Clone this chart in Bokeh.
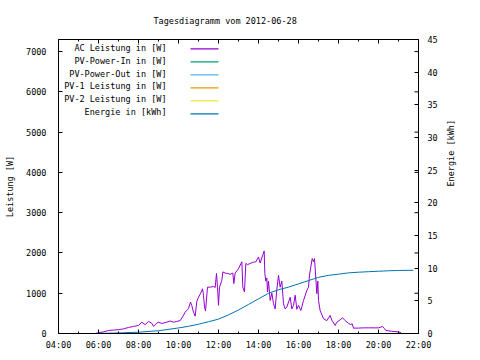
import math
from bokeh.plotting import figure
from bokeh.models import Range1d, LinearAxis, FixedTicker, Label, BoxAnnotation
from bokeh.embed import file_html
from bokeh.resources import INLINE

title_text = "Tagesdiagramm vom 2012-06-28"
y_left_label = "Leistung [W]"
y_right_label = "Energie [kWh]"

x_tick_hours = [4, 6, 8, 10, 12, 14, 16, 18, 20, 22]
x_tick_labels = ["04:00", "06:00", "08:00", "10:00", "12:00", "14:00", "16:00", "18:00", "20:00", "22:00"]
x_minor_hours = [5, 7, 9, 11, 13, 15, 17, 19, 21]
power_ticks = [0, 1000, 2000, 3000, 4000, 5000, 6000, 7000]
energy_ticks = [0, 5, 10, 15, 20, 25, 30, 35, 40, 45]

series_names = ["AC Leistung in [W]", "PV-Power-In in [W]", "PV-Power-Out in [W]",
                "PV-1 Leistung in [W]", "PV-2 Leistung in [W]", "Energie in [kWh]"]
series_colors = ["#9400d3", "#009e73", "#56b4e9", "#e69f00", "#f0e442", "#0072b2"]

ac_times = ["05:50", "06:00", "06:15", "06:30", "06:45", "07:00", "07:15", "07:30", "07:45", "08:00",
            "08:10", "08:20", "08:30", "08:40", "08:45", "08:55", "09:00", "09:10", "09:20", "09:35",
            "09:45", "09:55", "10:05", "10:12", "10:20", "10:30", "10:36", "10:40", "10:45", "10:50",
            "10:55", "11:00", "11:06", "11:12", "11:15", "11:18", "11:21", "11:27", "11:35", "11:45",
            "11:50", "11:54", "11:57", "12:00", "12:03", "12:10", "12:13", "12:20", "12:28", "12:35",
            "12:43", "12:46", "12:50", "13:00", "13:10", "13:13", "13:18", "13:22", "13:27", "13:35",
            "13:45", "13:52", "14:00", "14:05", "14:12", "14:17", "14:19", "14:22", "14:25", "14:27",
            "14:30", "14:35", "14:40", "14:45", "14:50", "14:55", "15:00", "15:05", "15:10", "15:15",
            "15:20", "15:25", "15:35", "15:40", "15:45", "15:50", "15:55", "16:00", "16:07", "16:15",
            "16:25", "16:30", "16:33", "16:37", "16:41", "16:45", "16:48", "16:52", "16:55", "16:58",
            "17:00", "17:05", "17:15", "17:25", "17:35", "17:40", "17:50", "17:55", "18:05", "18:12",
            "18:20", "18:30", "18:36", "18:41", "18:45", "19:00", "19:15", "19:30", "19:50", "20:00",
            "20:12", "20:18", "20:22", "20:40", "21:00", "21:08"]
ac_power = [0, 20, 40, 75, 85, 95, 115, 150, 175, 200,
            280, 220, 300, 250, 175, 260, 280, 250, 270, 310,
            280, 300, 320, 410, 530, 620, 780, 690, 530, 430,
            800, 900, 990, 1110, 950, 660, 560, 1150, 1150, 1170,
            1140, 1490, 1150, 700, 1150, 1320, 1530, 1500, 1490, 1470,
            1500, 1240, 1500, 1610, 1780, 1150, 1030, 1740, 1710, 1740,
            1770, 1780, 1900, 1750, 1930, 2050, 1490, 1300, 1380, 1030,
            1300, 820, 1000, 740, 610, 1100, 1445, 1150, 1300, 740,
            610, 655, 900, 610, 700, 950, 600, 700, 570, 820,
            1070, 1150, 1450, 1650, 1860, 1780, 1860, 1360, 990, 1300,
            820, 570, 366, 320, 448, 330, 200, 280, 340, 390,
            320, 250, 224, 241, 133, 135, 140, 141, 140, 140,
            175, 120, 75, 55, 40, 15]

energy_times = ["05:50", "07:00", "08:00", "09:00", "10:00", "10:30", "11:00", "11:30", "12:00", "12:30",
                "13:00", "13:30", "14:00", "14:30", "15:00", "15:30", "16:00", "16:30", "17:00", "17:30",
                "18:00", "18:30", "19:00", "19:30", "20:00", "20:30", "21:00", "21:45"]
energy_kwh = [0, 0.08, 0.2, 0.42, 0.85, 1.1, 1.42, 1.8, 2.2, 2.85,
              3.6, 4.45, 5.3, 6.15, 6.7, 7.1, 7.6, 8.1, 8.6, 8.9,
              9.08, 9.28, 9.38, 9.46, 9.53, 9.6, 9.65, 9.68]


def to_hours(t):
    hh, mm = t.split(":")
    return int(hh) + int(mm) / 60.0


FONT = "DejaVu Sans Mono"
FS = "8.5px"
FRAME_W, FRAME_H = 360, 294
X0, X1 = 4, 22
Y0, Y1 = 0, 7300

p = figure(frame_width=FRAME_W, frame_height=FRAME_H,
           x_range=Range1d(X0, X1), y_range=Range1d(Y0, Y1),
           output_backend="svg", toolbar_location=None,
           x_axis_location=None, y_axis_location=None,
           min_border_left=58, min_border_right=46, min_border_top=39, min_border_bottom=17)
p.extra_y_ranges = {"energy": Range1d(0, 45)}
p.grid.visible = False
p.outline_line_color = "black"
p.outline_line_width = 1
p.background_fill_color = "white"
p.border_fill_color = "white"

p.title.text = title_text
p.title.align = "left"
p.title.offset = 95
p.title.standoff = 27
p.title.text_font = FONT
p.title.text_font_size = FS
p.title.text_font_style = "normal"
p.title.text_color = "black"


def style(ax, tick_len=4):
    ax.axis_line_color = "black"
    ax.major_tick_line_color = "black"
    ax.minor_tick_line_color = "black"
    ax.major_tick_in = tick_len
    ax.major_tick_out = 0
    ax.minor_tick_in = 2
    ax.minor_tick_out = 0
    ax.major_label_text_font = FONT
    ax.major_label_text_font_size = FS
    ax.major_label_text_color = "black"
    ax.axis_label_text_font = FONT
    ax.axis_label_text_font_size = FS
    ax.axis_label_text_font_style = "normal"
    ax.axis_label_text_color = "black"


x_overrides = {h: lbl for h, lbl in zip(x_tick_hours, x_tick_labels)}

xb = LinearAxis(ticker=FixedTicker(ticks=x_tick_hours, minor_ticks=x_minor_hours),
                major_label_overrides=x_overrides)
style(xb)
xb.major_label_standoff = 6
p.add_layout(xb, "below")

yl = LinearAxis(ticker=FixedTicker(ticks=power_ticks, minor_ticks=[]), axis_label=y_left_label)
style(yl)
yl.major_label_standoff = 12
yl.axis_label_standoff = 8
p.add_layout(yl, "left")

yr = LinearAxis(y_range_name="energy", ticker=FixedTicker(ticks=energy_ticks, minor_ticks=[]),
                axis_label=y_right_label)
style(yr)
yr.major_label_standoff = 9
yr.axis_label_standoff = 10
yr.axis_label_orientation = math.pi / 2
p.add_layout(yr, "right")

# gnuplot mirrors the x ticks on the top border and the y1 ticks on the right border
px_x = (X1 - X0) / FRAME_W
px_y = (Y1 - Y0) / FRAME_H
p.segment(x0=x_tick_hours, y0=[Y1] * len(x_tick_hours),
          x1=x_tick_hours, y1=[Y1 - 4 * px_y] * len(x_tick_hours), line_color="black", line_width=1)
p.segment(x0=x_minor_hours, y0=[Y1] * len(x_minor_hours),
          x1=x_minor_hours, y1=[Y1 - 2 * px_y] * len(x_minor_hours), line_color="black", line_width=1)
p.segment(x0=[X1] * len(power_ticks), y0=power_ticks,
          x1=[X1 - 4 * px_x] * len(power_ticks), y1=power_ticks, line_color="black", line_width=1)

p.line([to_hours(t) for t in ac_times], ac_power, line_color=series_colors[0], line_width=1)
p.line([to_hours(t) for t in energy_times], energy_kwh, line_color=series_colors[5], line_width=1,
       y_range_name="energy")

# key (gnuplot style: label right-aligned, sample line to the right)
for i, (name, color) in enumerate(zip(series_names, series_colors)):
    ys = 285.7 - i * 12.85
    yb = round(ys - 2)
    p.add_layout(Label(x=108, y=ys, x_units="screen", y_units="screen", text=name,
                       text_align="right", text_baseline="middle", text_font=FONT,
                       text_font_size=FS, text_color="black"))
    p.add_layout(BoxAnnotation(left=132, right=160, bottom=yb, top=yb + 1.2,
                               left_units="screen", right_units="screen",
                               bottom_units="screen", top_units="screen",
                               fill_color=color, fill_alpha=1, line_color=None))

open("out.html", "w").write(file_html(p, INLINE))
